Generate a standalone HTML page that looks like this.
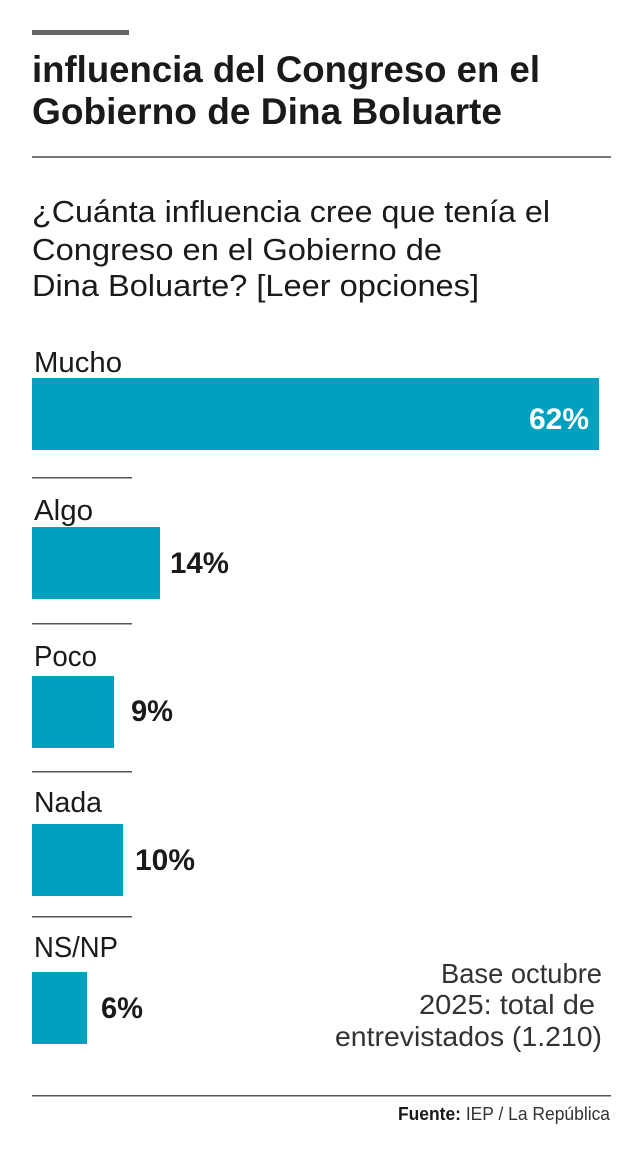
<!DOCTYPE html>
<html><head><meta charset="utf-8"><style>
html,body{margin:0;padding:0;background:#fff}
svg{display:block}
text{font-family:"Liberation Sans",sans-serif}
</style></head><body>
<svg width="640" height="1153" viewBox="0 0 640 1153">
<rect x="32" y="30" width="97" height="5" fill="#666"/>
<text x="32" y="82" font-size="37" font-weight="bold" fill="#1a1a1a" textLength="508" lengthAdjust="spacingAndGlyphs">influencia del Congreso en el</text>
<text x="32" y="124" font-size="37" font-weight="bold" fill="#1a1a1a" textLength="470" lengthAdjust="spacingAndGlyphs">Gobierno de Dina Boluarte</text>
<rect x="32" y="156" width="579" height="2" fill="#777"/>
<text x="32" y="222" font-size="31" fill="#1a1a1a" textLength="518" lengthAdjust="spacingAndGlyphs">¿Cuánta influencia cree que tenía el</text>
<text x="32" y="260" font-size="31" fill="#1a1a1a" textLength="410" lengthAdjust="spacingAndGlyphs">Congreso en el Gobierno de</text>
<text x="32" y="296" font-size="31" fill="#1a1a1a" textLength="447" lengthAdjust="spacingAndGlyphs">Dina Boluarte? [Leer opciones]</text>

<text x="34" y="372" font-size="29" fill="#1a1a1a" textLength="88" lengthAdjust="spacingAndGlyphs">Mucho</text>
<rect x="32" y="378" width="567" height="72" fill="#00a0bf"/>
<text x="589" y="429" font-size="30" font-weight="bold" fill="#fff" text-anchor="end" textLength="60" lengthAdjust="spacingAndGlyphs">62%</text>
<rect x="32" y="477" width="100" height="1.5" fill="#555"/>

<text x="34" y="520" font-size="29" fill="#1a1a1a" textLength="59" lengthAdjust="spacingAndGlyphs">Algo</text>
<rect x="32" y="527" width="128" height="72" fill="#00a0bf"/>
<text x="170" y="573" font-size="30" font-weight="bold" fill="#1a1a1a" textLength="59" lengthAdjust="spacingAndGlyphs">14%</text>
<rect x="32" y="623" width="100" height="1.5" fill="#555"/>

<text x="34" y="666" font-size="29" fill="#1a1a1a" textLength="63" lengthAdjust="spacingAndGlyphs">Poco</text>
<rect x="32" y="676" width="82" height="72" fill="#00a0bf"/>
<text x="131" y="721" font-size="30" font-weight="bold" fill="#1a1a1a" textLength="42" lengthAdjust="spacingAndGlyphs">9%</text>
<rect x="32" y="771" width="100" height="1.5" fill="#555"/>

<text x="34" y="812" font-size="29" fill="#1a1a1a" textLength="68" lengthAdjust="spacingAndGlyphs">Nada</text>
<rect x="32" y="824" width="91" height="72" fill="#00a0bf"/>
<text x="135" y="870" font-size="30" font-weight="bold" fill="#1a1a1a" textLength="60" lengthAdjust="spacingAndGlyphs">10%</text>
<rect x="32" y="916" width="100" height="1.5" fill="#555"/>

<text x="34" y="957" font-size="29" fill="#1a1a1a" textLength="84" lengthAdjust="spacingAndGlyphs">NS/NP</text>
<rect x="32" y="972" width="55" height="72" fill="#00a0bf"/>
<text x="101" y="1018" font-size="30" font-weight="bold" fill="#1a1a1a" textLength="42" lengthAdjust="spacingAndGlyphs">6%</text>

<text x="602" y="983" font-size="28" fill="#333" text-anchor="end" textLength="161" lengthAdjust="spacingAndGlyphs">Base octubre</text>
<text x="595" y="1014" font-size="28" fill="#333" text-anchor="end" textLength="176" lengthAdjust="spacingAndGlyphs">2025: total de</text>
<text x="602" y="1046" font-size="28" fill="#333" text-anchor="end" textLength="267" lengthAdjust="spacingAndGlyphs">entrevistados (1.210)</text>

<rect x="32" y="1095" width="579" height="1.5" fill="#555"/>
<text x="610" y="1120" font-size="18" fill="#333" text-anchor="end" textLength="212" lengthAdjust="spacingAndGlyphs"><tspan font-weight="bold" fill="#1a1a1a">Fuente:</tspan> IEP / La República</text>
</svg>
</body></html>
